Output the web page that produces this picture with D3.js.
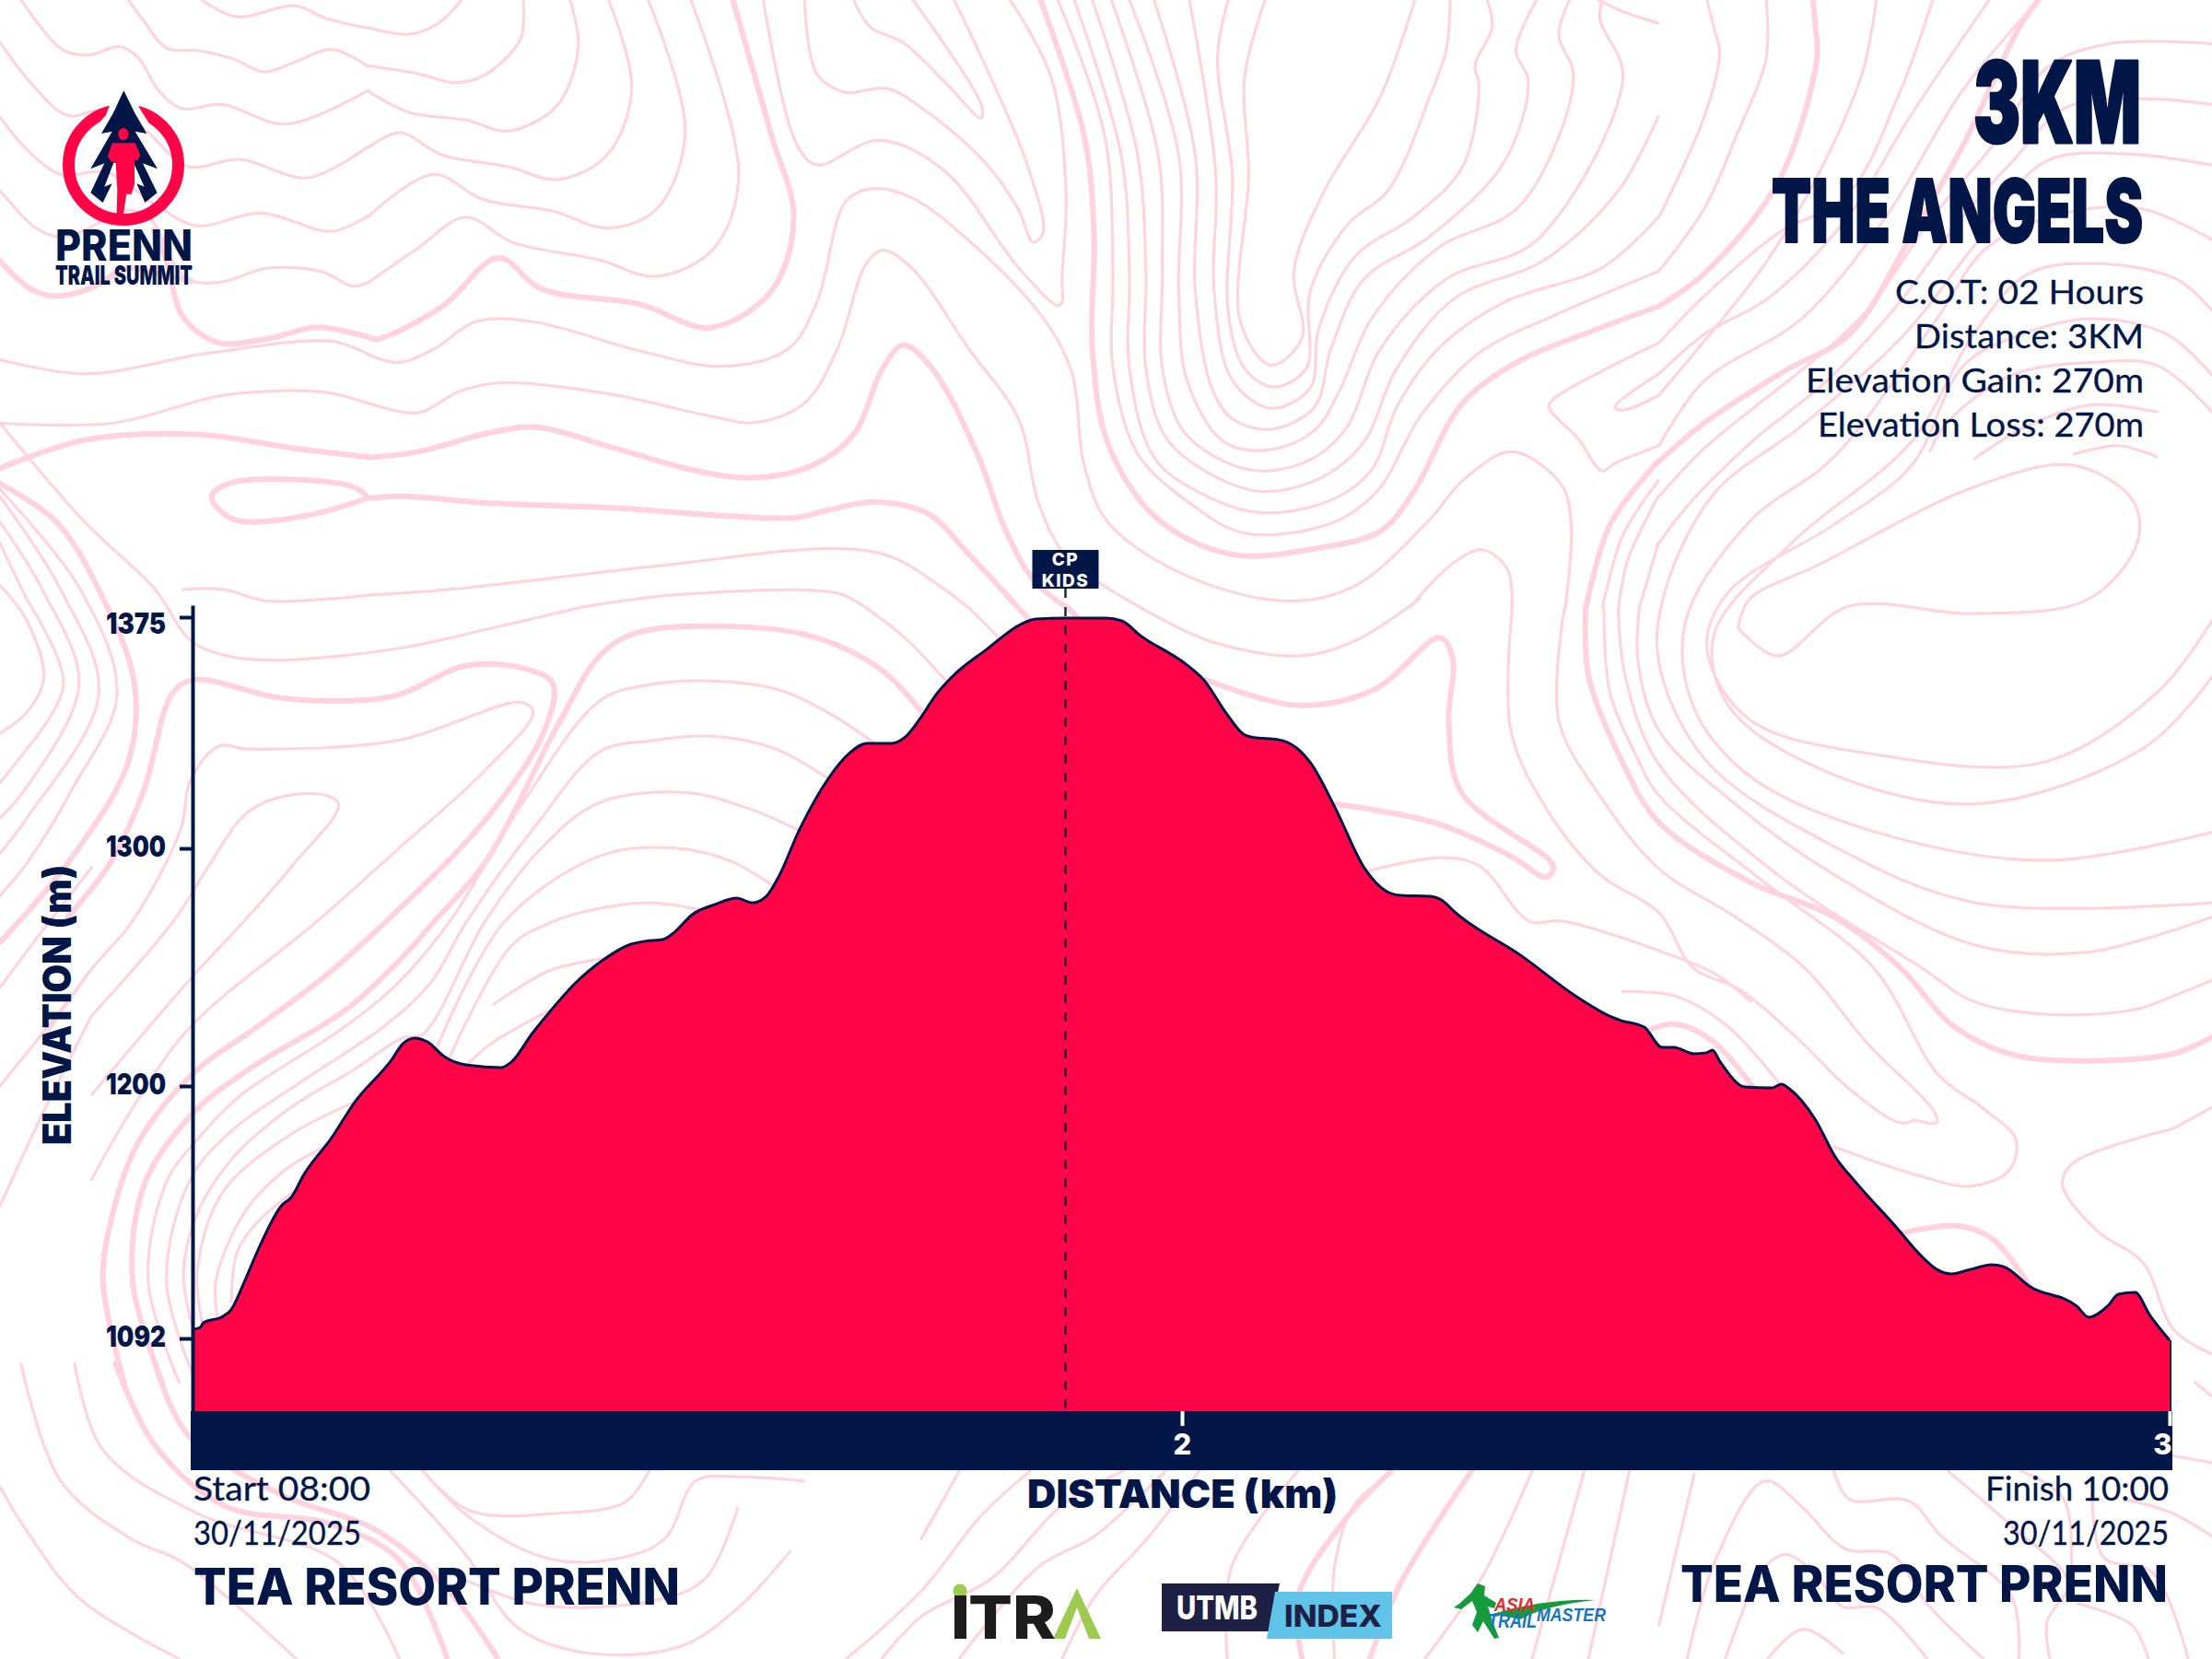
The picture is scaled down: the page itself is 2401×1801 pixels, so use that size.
<!DOCTYPE html>
<html><head><meta charset="utf-8">
<script src="https://cdn.jsdelivr.net/npm/d3@7"></script>
<style>html,body{margin:0;padding:0;background:#fff}svg{display:block}</style>
</head><body><svg id="c" width="2401" height="1801" viewBox="0 0 2401 1801"></svg>
<script>
// ---------- chart data ----------
const distanceKm = [1.000,1.006,1.009,1.029,1.037,1.050,1.064,1.089,1.098,1.111,1.139,1.162,1.200,1.211,1.223,1.236,1.253,1.275,1.311,1.321,1.342,1.361,1.385,1.414,1.442,1.456,1.474,1.486,1.504,1.527,1.549,1.565,1.579,1.591,1.613,1.642,1.663,1.681,1.706,1.720,1.738,1.749,1.767,1.802,1.838,1.852,1.882,1.923,1.939,1.958,2.005,2.022,2.044,2.062,2.073,2.097,2.116,2.130,2.155,2.185,2.206,2.222,2.251,2.264,2.276,2.344,2.401,2.437,2.445,2.468,2.486,2.498,2.518,2.531,2.537,2.545,2.570,2.597,2.607,2.615,2.641,2.662,2.681,2.723,2.748,2.764,2.779,2.799,2.820,2.832,2.859,2.906,2.918,2.938,2.948,2.965,2.980,3.000];
const elevationM = [1095.9,1096.7,1098.7,1101.5,1104.2,1115.6,1129.4,1149.2,1152.3,1162.2,1177.9,1192.9,1211.2,1217.8,1220.2,1218.6,1212.4,1208.9,1207.8,1210.1,1222.1,1231.8,1243.0,1253.1,1259.7,1260.9,1261.6,1264.7,1272.1,1276.4,1279.1,1277.1,1279.8,1287.6,1306.3,1322.7,1330.8,1334.1,1334.1,1336.2,1343.6,1349.0,1355.6,1364.5,1372.9,1374.4,1374.7,1374.7,1373.8,1369.0,1359.5,1354.7,1344.2,1337.1,1335.9,1335.3,1332.6,1327.8,1313.2,1291.5,1282.2,1280.2,1279.8,1277.9,1273.3,1254.7,1237.2,1228.7,1227.5,1224.8,1216.3,1216.3,1213.6,1214.0,1215.1,1210.1,1199.6,1199.2,1200.8,1198.8,1185.8,1169.3,1159.4,1139.7,1127.5,1121.6,1119.6,1121.6,1123.5,1122.7,1114.1,1105.8,1101.1,1106.2,1110.9,1111.7,1101.9,1091.2];
const yTicks = [1092,1200,1300,1375];
const xTicks = [2,3];
const checkpointKm = [1.882];
const checkpointLabel = ["CP","KIDS"];
const infoLines = ["C.O.T: 02 Hours","Distance: 3KM","Elevation Gain: 270m","Elevation Loss: 270m"];

// ---------- decorative topographic background traces ----------
// upper-middle block, traced on a 1568 x 1568 stretched view of x 400-1800, y 0-660
const upperThin = [
 [[113,0],[85,60],[50,88],[0,72]],
 [[188,0],[185,100],[140,195],[105,213],[60,190],[0,170]],
 [[245,0],[255,120],[230,270],[170,338],[120,310],[50,290],[0,235]],
 [[292,0],[320,230],[290,400],[230,463],[170,430],[90,400],[38,342],[0,380]],
 [[340,0],[385,340],[350,540],[290,588],[225,545],[140,515],[78,450],[0,558]],
 [[392,0],[450,450],[420,640],[350,713],[280,670],[175,625],[118,560],[60,640],[0,728]],
 [[780,0],[830,200],[848,500],[843,720],[843,780],[838,788],[790,690],[700,440],[620,362],[545,425],[520,370],[480,0]],
 [[530,0],[545,190],[580,238],[630,228],[680,290],[750,420],[790,540],[808,625],[820,600],[800,420],[750,170],[712,0]],
 [[590,0],[610,70],[650,110],[700,210],[745,305],[745,270],[662,0]],
 [[0,915],[35,935],[80,900],[130,830],[200,830],[330,905],[430,945],[510,900],[545,780],[580,520],[610,487],[660,510],[740,640],[820,820],[855,960],[870,1200],[900,1350],[1000,1490],[1120,1550],[1200,1510],[1290,1340],[1330,1240],[1390,1165],[1450,1250],[1462,1350],[1455,1568]],
 [[0,1040],[60,1065],[110,1010],[160,987],[290,1015],[420,1075],[470,1090],[530,1040],[570,900],[605,680],[625,645],[660,690],[730,900],[790,1080],[815,1300],[850,1440],[940,1568]],
 [[0,1535],[100,1520],[350,1460],[570,1415],[640,1440],[730,1568]],
 [[255,1568],[370,1535],[570,1530],[605,1568]],
 [[838,0],[895,350],[905,700],[905,950],[935,1170],[1000,1300],[1065,1375],[1170,1350],[1225,1270],[1280,1070],[1350,910],[1440,815],[1568,700]],
 [[858,0],[915,400],[925,700],[925,950],[955,1180],[1010,1270],[1085,1322],[1170,1290],[1220,1210],[1250,1050],[1300,900],[1380,780],[1500,690],[1568,560]],
 [[880,0],[935,400],[945,700],[945,950],[970,1130],[1030,1230],[1090,1268],[1160,1230],[1210,1140],[1250,950],[1320,770],[1430,670],[1520,490],[1568,300]],
 [[903,0],[960,400],[965,700],[965,950],[990,1110],[1040,1190],[1090,1215],[1150,1180],[1190,1100],[1230,900],[1310,720],[1420,620],[1525,200],[1497,50],[1500,0]],
 [[925,0],[985,400],[985,750],[995,980],[1040,1140],[1095,1160],[1150,1110],[1180,1010],[1220,820],[1300,640],[1400,530],[1465,200],[1447,90],[1460,0]],
 [[955,0],[1005,400],[1005,750],[1025,1000],[1050,1080],[1097,1107],[1150,1050],[1170,900],[1210,720],[1290,610],[1380,420],[1410,210],[1395,130],[1420,0]],
 [[998,0],[1030,450],[1028,750],[1050,980],[1097,1053],[1145,1000],[1155,850],[1200,660],[1270,560],[1330,430],[1350,220],[1345,170],[1366,70],[1360,0]],
 [[1045,0],[1032,150],[1050,450],[1045,800],[1065,950],[1100,998],[1140,950],[1145,750],[1190,580],[1240,490],[1290,250],[1310,130],[1315,0]],
 [[1090,0],[1065,200],[1070,450],[1060,830],[1097,942],[1135,870],[1125,700],[1160,500],[1230,250],[1272,0]],
 [[1568,965],[1515,1050],[1525,1058],[1568,1020]],
 [[1568,885],[1440,1030],[1435,1050],[1470,1130],[1500,1215],[1515,1195],[1568,1150]],
 [[1520,1568],[1530,1450],[1568,1280]],
 [[1500,1568],[1525,1380],[1568,1240]],
 [[1545,1568],[1568,1400]],
 [[1265,1568],[1320,1450],[1355,1418],[1385,1470],[1390,1568]],
 [[1495,0],[1525,30],[1568,60]]
];
const upperThick = [
 [[443,0],[490,350],[517,560],[490,750],[415,845],[330,785],[210,745],[158,665],[90,790],[10,875],[0,870]],
 [[0,1180],[60,1165],[150,1115],[205,1102],[290,1150],[400,1215],[470,1232],[540,1200],[590,1120],[625,950],[650,890],[685,950],[740,1170],[775,1370],[810,1500],[850,1568]],
 [[0,1285],[40,1280],[150,1298],[300,1310],[430,1330],[520,1335],[560,1315],[615,1295],[680,1325],[730,1430],[790,1568]],
 [[817,0],[870,350],[882,600],[880,900],[900,1150],[960,1340],[1050,1430],[1150,1415],[1230,1370],[1270,1270],[1330,1040],[1400,930],[1480,860],[1568,790]],
 [[1480,1568],[1510,1350],[1568,1190]]
];
// everything else, traced on a 1568 wide view
const thickContours = [
 [[0,343],[40,370],[70,418],[95,483],[91,540],[48,612],[0,668]],
 [[88,980],[73,908],[80,860],[98,810],[138,760],[178,731],[228,694],[274,653],[345,580],[385,520],[392,485],[372,474],[330,472],[281,493],[237,497],[194,494],[137,482],[122,492],[102,560],[78,612],[48,650]],
 [[115,980],[94,908],[103,838],[138,788],[178,757],[245,716],[283,681],[308,653],[345,610],[395,515],[425,465],[450,449],[512,444],[575,451],[625,475],[655,507]],
 [[82,967],[110,1025],[160,1068],[233,1080],[283,1106],[317,1176]],
 [[110,967],[133,1017],[200,1060],[267,1085],[320,1130],[353,1176]],
 [[855,482],[919,500],[974,489],[1021,452],[1030,468],[1027,510],[1036,562],[1101,614],[1096,622],[1071,607],[1016,583],[946,570]],
 [[1124,431],[1126,479],[1149,538],[1176,583],[1240,625],[1300,650],[1347,686],[1384,727],[1424,747],[1469,752],[1541,747],[1568,735]],
 [[1170,730],[1187,726],[1214,738],[1242,770]],
 [[1349,874],[1387,869],[1412,878],[1439,912]],
 [[1176,217],[1208,194],[1261,128],[1288,41],[1287,20],[1285,0]],
 [[1176,327],[1208,300],[1265,263],[1311,237],[1355,167],[1392,102],[1431,20],[1445,0]],
 [[0,185],[22,205],[39,210],[65,204],[90,190],[115,195],[135,199]],
 [[261,239],[225,232],[190,240],[155,243],[130,225],[118,185],[109,163]],
 [[0,332],[60,312],[140,308],[210,318],[261,324]],
 [[261,353],[250,345],[165,342],[150,352],[165,368],[215,366],[261,353]],
 [[722,431],[735,445]],
 [[757,431],[771,445]],
 [[923,1176],[920,1132],[953,1078],[986,1043]],
 [[971,1176],[993,1122],[1043,1043]]
];
const thinContours = [
 [[15,0],[44,35],[63,39],[85,33],[98,41],[113,65],[129,77],[157,74],[203,88],[261,64]],
 [[91,0],[102,15],[118,34],[142,36],[166,42],[187,51],[209,44],[235,35],[261,47]],
 [[143,0],[168,12],[209,4],[231,13],[261,20]],
 [[0,30],[22,59],[48,82],[72,78],[100,90],[133,118],[170,113],[218,126],[261,104]],
 [[0,83],[22,109],[44,124],[75,122],[110,145],[139,160],[185,151],[235,164],[261,153]],
 [[0,135],[26,162],[46,168],[93,149],[108,157],[125,190],[135,199],[157,200],[190,190],[229,193],[250,203],[261,200]],
 [[0,255],[60,265],[150,250],[235,242],[261,251]],
 [[0,300],[80,300],[160,280],[230,278],[261,286]],
 [[19,425],[45,485],[19,531]],[[0,385],[19,425]],[[19,531],[0,555]],
 [[0,370],[30,418],[56,485],[19,558],[0,580]],
 [[0,352],[43,418],[70,492],[19,580],[0,605]],
 [[0,347],[57,418],[83,492],[52,558],[19,612],[0,635]],
 [[0,415],[19,440],[31,481],[19,505],[0,520]],
 [[0,300],[60,370],[110,418],[135,454],[161,465],[194,468],[281,460],[350,445],[410,431]],
 [[130,418],[159,418],[189,426],[261,422]],
 [[65,836],[95,784],[135,728],[225,653],[281,603],[345,545],[378,505],[370,498],[281,525],[176,531],[155,529],[135,553],[128,588],[94,653],[65,687],[35,730]],
 [[65,720],[123,653],[148,614],[172,579],[192,567],[226,563],[240,570],[207,614],[173,653],[135,694],[65,776]],
 [[127,980],[105,908],[118,838],[138,810],[170,777],[240,731],[280,699],[319,653],[370,570],[425,497],[457,486],[510,483],[555,490],[590,507],[620,527]],
 [[137,975],[118,908],[135,836],[165,801],[215,766],[273,727],[305,697],[331,653],[380,585],[425,533],[462,525],[505,522],[550,531],[587,552]],
 [[137,943],[130,903],[140,860],[165,821],[205,786],[253,757],[285,736],[300,733],[344,653],[385,600],[425,569],[487,562],[530,573],[567,589]],
 [[143,936],[140,899],[158,845],[205,805],[252,781]],
 [[154,933],[153,908],[173,860],[200,831],[230,813]],
 [[164,923],[168,888],[183,866],[208,845]],
 [[310,742],[358,653],[425,607],[475,601],[517,610],[548,628]],
 [[319,749],[363,670],[393,653],[425,644],[460,640],[496,645]],
 [[332,754],[348,740],[390,716]],
 [[350,712],[390,688],[432,679]],
 [[0,700],[30,660],[65,615]],
 [[0,770],[40,720],[65,687]],
 [[0,855],[30,790],[65,720]],
 [[614,431],[640,451],[671,483]],
 [[687,431],[709,453]],
 [[809,431],[859,455],[921,465],[959,455],[1006,425]],
 [[971,617],[1023,608],[1049,614],[1084,653],[1108,653],[1176,674],[1215,690],[1241,710]],
 [[1072,431],[1071,518],[1096,573],[1134,620],[1176,647],[1200,686],[1234,702],[1274,736],[1312,773],[1347,796],[1357,794]],
 [[1109,431],[1105,511],[1134,564],[1176,616],[1230,650],[1279,686],[1324,740],[1371,788],[1373,796],[1357,794]],
 [[1137,431],[1141,490],[1159,534],[1176,564],[1250,625],[1328,686],[1374,762],[1406,786],[1429,808],[1424,830],[1397,841],[1362,834],[1300,813]],
 [[1147,431],[1152,479],[1176,542],[1260,620],[1362,686],[1399,710],[1449,719],[1512,716],[1541,706],[1568,695]],
 [[1162,431],[1161,468],[1176,518],[1230,570],[1300,620],[1400,670],[1480,675],[1568,650]],
 [[1150,703],[1187,706],[1224,727],[1262,769]],
 [[1541,800],[1469,825],[1462,840],[1487,873],[1519,895],[1541,943],[1568,960]],
 [[1568,785],[1541,800]],
 [[1176,154],[1208,83],[1219,37],[1215,20],[1210,0]],
 [[1176,192],[1208,148],[1231,96],[1252,41],[1252,0]],
 [[1176,243],[1208,210],[1261,165],[1309,139],[1346,67],[1370,0]],
 [[1176,265],[1208,237],[1254,211],[1309,155],[1355,81],[1410,0]],
 [[1176,280],[1208,242],[1249,190],[1284,133],[1320,52],[1330,0]],
 [[1176,316],[1208,270],[1277,226],[1336,155],[1392,63],[1445,0]],
 [[1176,352],[1208,318],[1318,226],[1369,155],[1415,100],[1451,48],[1495,31],[1568,31]],
 [[1176,385],[1195,360],[1242,313],[1295,270],[1346,215],[1387,159],[1426,115],[1465,76],[1520,70],[1568,74]],
 [[1568,117],[1506,109],[1449,115],[1398,176],[1350,237],[1277,302],[1215,350],[1180,420],[1176,470],[1210,540],[1300,600],[1400,640],[1568,640]],
 [[1568,170],[1518,148],[1460,152],[1408,176],[1373,226],[1300,324],[1240,370],[1195,440],[1200,500],[1240,550],[1330,590],[1450,610],[1568,590]],
 [[1568,220],[1543,198],[1490,187],[1438,194],[1399,237],[1355,313],[1270,385],[1215,450],[1225,500],[1290,545],[1400,570],[1520,530],[1568,480]],
 [[1568,266],[1536,237],[1483,226],[1433,237],[1392,259],[1355,330],[1300,372],[1225,420],[1210,460],[1240,510],[1330,535],[1450,540],[1530,490],[1568,440]],
 [[1232,445],[1240,425],[1290,400],[1400,345],[1470,330],[1512,355],[1515,385],[1480,425],[1400,435],[1310,430],[1260,465],[1232,445]],
 [[1568,292],[1529,259],[1483,257],[1426,266],[1380,300],[1368,320]],
 [[1529,292],[1483,287],[1437,302],[1400,325]],
 [[1529,324],[1502,316],[1470,322]],
 [[0,1054],[20,1087],[57,1134],[127,1176]],
 [[15,967],[43,1050],[93,1091],[130,1108],[210,1176]],
 [[53,967],[73,1028],[140,1073],[240,1108],[283,1176]],
 [[277,1043],[330,1102],[367,1154],[417,1172],[483,1167],[523,1140],[560,1100]],
 [[300,1043],[333,1076],[393,1106],[450,1102],[473,1089],[493,1050],[523,1047],[570,1050]],
 [[460,1043],[443,1065],[393,1073],[333,1071],[300,1043]],
 [[523,1069],[500,1119],[467,1134],[383,1138],[327,1119]],
 [[653,1091],[680,1043]],
 [[600,1176],[653,1128],[696,1074],[730,1043]],
 [[625,1176],[653,1146],[703,1119],[753,1067],[796,1043]],
 [[680,1176],[736,1111],[776,1089],[826,1043]],
 [[753,1176],[776,1132],[813,1091],[850,1043]],
 [[870,1176],[873,1111],[920,1043]],
 [[946,1176],[946,1111],[960,1067],[986,1045]],
 [[1010,1176],[1050,1119],[1086,1043]],
 [[1086,1176],[1123,1043]],
 [[1126,1176],[1155,1043]],
 [[1176,1152],[1201,1045]],
 [[1196,1176],[1216,1106],[1251,1050],[1276,1067],[1308,1098],[1341,1102],[1366,1137],[1406,1176]],
 [[1223,1176],[1251,1111],[1266,1102],[1286,1115],[1306,1139],[1331,1140],[1366,1176]],
 [[1253,1176],[1278,1155],[1306,1172]],
 [[1300,1043],[1311,1063],[1353,1064],[1376,1089],[1426,1132],[1431,1176]],
 [[1381,1043],[1426,1082],[1466,1122],[1451,1150],[1453,1176]],
 [[1433,1043],[1463,1063],[1468,1122]],
 [[1483,1058],[1491,1104],[1526,1115],[1551,1176]],
 [[1473,1137],[1511,1152],[1523,1176]],
 [[1506,1063],[1538,1072],[1568,1089]],
 [[1540,1032],[1568,1037]],
 [[1556,980],[1568,990]]
];

// ---------- scaffolding ----------
const RED = "#ff0548", NAVY = "#021648", PINK = "#ffd2de";
const svg = d3.select("#c");
svg.append("rect").attr("width",2401).attr("height",1801).attr("fill","#fff");

// background
const bgScale = d3.scaleLinear().domain([0,1568]).range([0,2401]);
const upX = d3.scaleLinear().domain([0,1568]).range([400,1800]);
const upY = d3.scaleLinear().domain([0,1568]).range([0,660]);
const curve = d3.curveCatmullRom.alpha(0.5);
const bgLine = d3.line().x(d=>bgScale(d[0])).y(d=>bgScale(d[1])).curve(curve);
const upLine = d3.line().x(d=>upX(d[0])).y(d=>upY(d[1])).curve(curve);
const bg = svg.append("g").attr("fill","none").attr("stroke",PINK).attr("stroke-linecap","round").attr("stroke-linejoin","round");
bg.selectAll("path.thin").data(thinContours).join("path").attr("class","thin").attr("d",bgLine).attr("stroke-width",3);
bg.selectAll("path.thick").data(thickContours).join("path").attr("class","thick").attr("d",bgLine).attr("stroke-width",6);
bg.selectAll("path.uthin").data(upperThin).join("path").attr("class","uthin").attr("d",upLine).attr("stroke-width",3);
bg.selectAll("path.uthick").data(upperThick).join("path").attr("class","uthick").attr("d",upLine).attr("stroke-width",6);

// scales
const x = d3.scaleLinear().domain([1,3]).range([211,2355]);
const y = d3.scaleLinear().domain([1061,1092,1200,1300,1375,1379]).range([1532,1453,1179,921,670,657]);
const base = 1061;
const profile = distanceKm.map((k,i)=>({k,e:elevationM[i]}));
const HEAVY = "Inter", BODY = "Lato";

// filled profile
svg.append("path").datum(profile).attr("fill",RED)
  .attr("d",d3.area().x(d=>x(d.k)).y0(y(base)).y1(d=>y(d.e)).curve(d3.curveMonotoneX));
svg.append("path").datum(profile).attr("fill","none").attr("stroke",NAVY).attr("stroke-width",3)
  .attr("d",d3.line().x(d=>x(d.k)).y(d=>y(d.e)).curve(d3.curveMonotoneX));
svg.append("line").attr("x1",x(3)+1).attr("x2",x(3)+1).attr("y1",y(elevationM[elevationM.length-1])).attr("y2",y(base)).attr("stroke",NAVY).attr("stroke-width",2);

// checkpoint
checkpointKm.forEach(k=>{
  svg.append("line").attr("x1",x(k)).attr("x2",x(k)).attr("y1",639).attr("y2",y(base))
     .attr("stroke","#1c1c2c").attr("stroke-width",2.4).attr("stroke-dasharray","10 10");
  svg.append("rect").attr("x",x(k)-36).attr("y",597).attr("width",72).attr("height",42).attr("fill",NAVY);
  svg.selectAll("text.cp").data(checkpointLabel).join("text").attr("class","cp")
    .attr("x",x(k)).attr("y",(d,i)=>614+i*23).attr("text-anchor","middle").attr("fill","#fff")
    .attr("font-family",HEAVY).attr("font-weight",800).attr("font-size",19).attr("letter-spacing",1.5).text(d=>d);
});

// x band and axis
svg.append("rect").attr("x",207).attr("y",1532).attr("width",2151).attr("height",64).attr("fill",NAVY);
const xAxis = svg.append("g").attr("transform","translate(0,1532)")
  .call(d3.axisBottom(x).tickValues(xTicks).tickFormat(d3.format("d")).tickSize(16).tickSizeOuter(0));
xAxis.select(".domain").remove();
xAxis.selectAll(".tick line").attr("stroke","#fff").attr("stroke-width",4);
xAxis.selectAll(".tick text").attr("fill","#fff").attr("font-family",HEAVY).attr("font-weight",800).attr("font-size",31)
  .attr("y",47).attr("dy",0).attr("text-anchor",d=>d===3?"end":"middle").attr("dx",d=>d===3?2:0);

// y axis
const yAxis = svg.append("g").attr("transform","translate(209,0)")
  .call(d3.axisLeft(y).tickValues(yTicks).tickFormat(d3.format("d")).tickSize(14).tickSizeOuter(0).tickPadding(15));
yAxis.select(".domain").attr("stroke",NAVY).attr("stroke-width",4);
yAxis.selectAll(".tick line").attr("stroke",NAVY).attr("stroke-width",4);
yAxis.selectAll(".tick text").attr("fill",NAVY).attr("font-family",HEAVY).attr("font-weight",900).attr("font-size",31)
  .attr("dy",d=>d===1375?17:8).attr("textLength",65).attr("lengthAdjust","spacingAndGlyphs");

// text helper: places a text with a measured width
function t(str,x0,x1,base,font,size,weight,o={}){
  const el = svg.append("text").attr("x",o.end?x1:x0).attr("y",base).attr("font-family",font).attr("font-size",size)
     .attr("font-weight",weight).attr("fill",o.fill||NAVY).attr("textLength",x1-x0).attr("lengthAdjust","spacingAndGlyphs").text(str);
  if(o.end) el.attr("text-anchor","end");
  if(o.stroke) el.attr("stroke",o.fill||NAVY).attr("stroke-width",o.stroke).attr("stroke-linejoin","round");
  if(o.style) el.attr("font-style",o.style);
  return el;
}
t("3KM",2142,2324,155,HEAVY,122,900,{stroke:3,end:true});
t("THE ANGELS",1923,2326,263,HEAVY,95,900,{stroke:2,end:true});
const infoX=[2057,2078,1960,1973], infoY=[330,378,426,474];
infoLines.forEach((s,i)=>t(s,infoX[i],2327,infoY[i],BODY,37,400,{stroke:.3,end:true}));
t("Start 08:00",210,402,1629,BODY,36,400,{stroke:.3});
t("30/11/2025",210,392,1677,BODY,36,400,{stroke:.3});
t("TEA RESORT PRENN",210,738,1742,HEAVY,55,800);
t("Finish 10:00",2155,2354,1629,BODY,36,400,{stroke:.3,end:true});
t("30/11/2025",2174,2354,1677,BODY,36,400,{stroke:.3,end:true});
t("TEA RESORT PRENN",1824,2353,1739,HEAVY,55,800,{end:true});
t("DISTANCE (km)",1115,1452,1637,HEAVY,43,900);
svg.append("text").attr("transform","translate(77,1091) rotate(-90)").attr("text-anchor","middle")
  .attr("font-family",HEAVY).attr("font-weight",900).attr("font-size",42).attr("fill",NAVY)
  .attr("textLength",304).attr("lengthAdjust","spacingAndGlyphs").text("ELEVATION (m)");

// PRENN logo
const logo = svg.append("g");
logo.append("circle").attr("cx",134).attr("cy",179).attr("r",59.5).attr("fill","none").attr("stroke",RED).attr("stroke-width",13);
const lg = logo.append("g").attr("transform","scale(0.3333)");
lg.append("path").attr("fill","#fff").attr("d","M360,335 L345,375 L318,405 L488,405 L465,370 L445,335 Z");
lg.append("path").attr("fill",NAVY).attr("d","M403,295 L440,370 L478,435 L440,428 L513,550 L465,532 L512,628 L472,660 L445,598 L470,608 L435,530 L370,530 L340,608 L365,598 L335,660 L295,628 L340,532 L295,550 L365,428 L330,435 L368,370 Z");
lg.append("ellipse").attr("cx",402).attr("cy",437).attr("rx",17).attr("ry",20).attr("fill",RED);
lg.append("path").attr("fill",RED).attr("d","M366,466 L440,466 L457,505 L447,524 L438,520 L438,600 L428,632 L412,632 L402,697 L380,697 L382,620 L377,530 L362,526 L350,510 Z");
t("PRENN",60,209,283,HEAVY,46,800);
t("TRAIL SUMMIT",60,209,309,HEAVY,29,900);

// iTRA logo
const itra = svg.append("g");
itra.append("circle").attr("cx",1042).attr("cy",1727).attr("r",7.5).attr("fill","#9ccb4f");
itra.append("rect").attr("x",1036).attr("y",1732).attr("width",13).attr("height",47).attr("fill","#1c1c1c");
t("TR",1051,1146,1779,HEAVY,65,800,{fill:"#1c1c1c"});
itra.append("path").attr("fill","#9ccb4f").attr("d","M1143,1779 L1169,1724 L1195,1779 L1182,1779 L1169,1745 L1156,1779 Z");

// UTMB index logo
const utmb = svg.append("g");
utmb.append("path").attr("fill","#1e2145").attr("d","M1261,1719 L1389,1719 L1378,1771 L1261,1771 Z");
utmb.append("path").attr("fill","#5fc4e8").attr("d","M1384,1728 L1511,1728 L1511,1779 L1375,1779 Z");
t("UTMB",1277,1365,1758,HEAVY,36,800,{fill:"#fff"});
t("INDEX",1394,1500,1766,HEAVY,33,800,{fill:"#1e2145"});

// Asia Trail Master logo
const atm = svg.append("g");
atm.append("path").attr("fill","#159a3c").attr("d","M1620,1752 Q1680,1735 1732,1737 Q1680,1742 1650,1758 Z");
atm.append("path").attr("fill","#159a3c").attr("d","M1604,1719 L1612,1722 L1611,1732 L1624,1740 L1622,1746 L1615,1744 L1620,1760 L1627,1778 L1622,1779 L1610,1760 L1604,1772 L1598,1764 L1603,1750 L1598,1738 L1586,1747 L1578,1745 L1584,1741 L1596,1730 Z");
t("ASIA",1622,1666,1749,"Liberation Sans",21,700,{fill:"#e8262b",style:"italic"});
t("TRAIL",1615,1668,1767,"Liberation Sans",22,700,{fill:"#1676bd",style:"italic"});
t("MASTER",1668,1743,1760,"Liberation Sans",21,700,{fill:"#1676bd",style:"italic"});
</script></body></html>
